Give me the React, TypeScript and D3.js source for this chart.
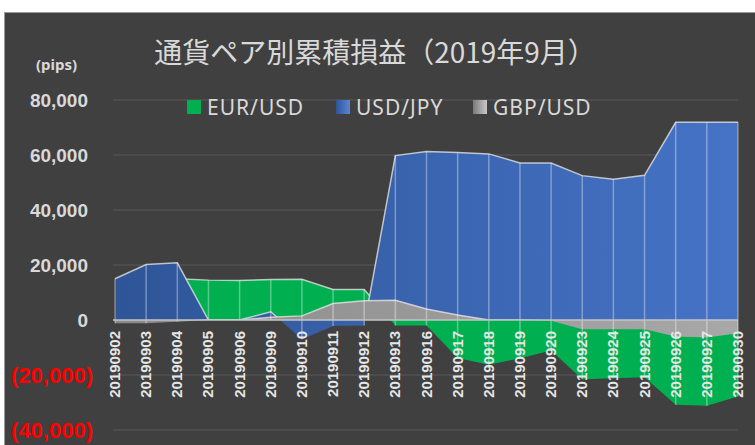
import React from "react";
import * as d3 from "d3";

const width = 755;
const height = 445;

const dates = [
  "20190902", "20190903", "20190904", "20190905", "20190906", "20190909",
  "20190910", "20190911", "20190912", "20190913", "20190916", "20190917",
  "20190918", "20190919", "20190920", "20190923", "20190924", "20190925",
  "20190926", "20190927", "20190930"
];

const eurUsd = [
  14000, 15000, 15000, 14500, 14400, 14750, 14850, 11100, 11100, -2000, -2000,
  -13800, -16300, -13900, -11100, -21500, -21200, -20800, -30800, -31200, -27800
];

const usdJpy = [
  15000, 20200, 20800, 0, 0, 3000, -7000, -2200, -2000, 59800, 61300, 60900,
  60400, 57100, 57100, 52500, 51200, 52600, 71900, 71900, 71900
];

const gbpUsd = [
  -1200, -1200, -600, 0, 0, 1000, 1500, 6000, 7000, 7200, 4000, 1800, 0, 0,
  -300, -3400, -3400, -3400, -6000, -6400, -4800
];

const seriesNames = ["EUR/USD", "USD/JPY", "GBP/USD"];
const yTicks = [-40000, -20000, 0, 20000, 40000, 60000, 80000];

const title = "通貨ペア別累積損益（2019年9月）";
const unitLabel = "(pips)";

const colors = {
  bg: "#404040",
  grid: "#585858",
  text: "#d9d9d9",
  neg: "#ff0000",
  green: "#00b050"
};

const fmt = d3.format(",");
const tickLabel = (v: number) => (v < 0 ? "(" + fmt(-v) + ")" : fmt(v));

export default function App() {
  // scales
  const x = d3.scalePoint().domain(dates).range([115, 738]);
  const y = d3.scaleLinear().domain([-40000, 80000]).range([430, 100]);

  const series = [
    { name: seriesNames[0], values: eurUsd, fill: colors.green },
    { name: seriesNames[1], values: usdJpy, fill: "url(#blueGrad)" },
    { name: seriesNames[2], values: gbpUsd, fill: "url(#grayGrad)" }
  ];

  const area = d3
    .area<number>()
    .x((d, i) => x(dates[i]) as number)
    .y0(y(0))
    .y1(d => y(d));

  const line = d3
    .line<number>()
    .x((d, i) => x(dates[i]) as number)
    .y(d => y(d));

  // drop lines from the highest to the lowest value at each date
  const drops = dates.map((d, i) => {
    const vals = [0, eurUsd[i], usdJpy[i], gbpUsd[i]];
    return { x: x(d) as number, top: y(d3.max(vals)!), bottom: y(d3.min(vals)!) };
  });

  const legendX = [187, 336, 473];

  return (
    <svg
      width={width}
      height={height}
      style={{ position: "absolute", left: 0, top: 0 }}
      fontFamily="'Liberation Sans', Arial, sans-serif"
    >
      <defs>
        <linearGradient id="blueGrad" x1="0" x2="1" y1="0" y2="0">
          <stop offset="0" stopColor="#2e5597" />
          <stop offset="1" stopColor="#4673c6" />
        </linearGradient>
        <linearGradient id="grayGrad" x1="0" x2="1" y1="0" y2="0">
          <stop offset="0" stopColor="#8a8a8a" />
          <stop offset="1" stopColor="#a8a8a8" />
        </linearGradient>
        <linearGradient id="blueLeg" x1="0" x2="1" y1="0" y2="0">
          <stop offset="0" stopColor="#2e5597" />
          <stop offset="1" stopColor="#5b86d6" />
        </linearGradient>
        <linearGradient id="grayLeg" x1="0" x2="1" y1="0" y2="0">
          <stop offset="0" stopColor="#7a7a7a" />
          <stop offset="1" stopColor="#c8c8c8" />
        </linearGradient>
        <clipPath id="above">
          <rect x={0} y={0} width={width} height={y(0)} />
        </clipPath>
      </defs>

      <rect x={0} y={0} width={width} height={height} fill="#ffffff" />
      <rect x={4.5} y={12.5} width={width} height={height} fill={colors.bg} stroke="#9a9a9a" />

      {/* gridlines */}
      <g>
        {yTicks.map(t => (
          <line key={t} x1={113} x2={738} y1={y(t)} y2={y(t)} stroke={colors.grid} strokeWidth={1} />
        ))}
      </g>

      {/* areas, overlapping, first series at the back; each with its light top edge */}
      {series.map(s => (
        <g key={s.name}>
          <path d={area(s.values) || ""} fill={s.fill} />
          <path
            d={line(s.values) || ""}
            fill="none"
            stroke="rgba(235,235,235,0.75)"
            strokeWidth={1.5}
            clipPath="url(#above)"
          />
        </g>
      ))}

      <g>
        {drops.map((d, i) => (
          <line
            key={i}
            x1={d.x}
            x2={d.x}
            y1={d.top}
            y2={d.bottom}
            stroke="rgba(255,255,255,0.35)"
            strokeWidth={1.5}
          />
        ))}
      </g>

      {/* zero axis */}
      <line x1={113} x2={738} y1={y(0)} y2={y(0)} stroke="#c4c4c4" strokeWidth={1.5} />

      {/* y axis labels */}
      <g>
        {yTicks.map(t => (
          <text
            key={t}
            x={t < 0 ? 93 : 88}
            y={y(t)}
            dy="0.36em"
            textAnchor="end"
            fontSize={t < 0 ? 22 : 19}
            fontWeight="bold"
            fill={t < 0 ? colors.neg : colors.text}
          >
            {tickLabel(t)}
          </text>
        ))}
      </g>

      {/* x axis labels */}
      <g>
        {dates.map(d => (
          <text
            key={d}
            transform={`translate(${(x(d) as number) + 5},331) rotate(-90)`}
            textAnchor="end"
            fontSize={15}
            fontWeight="bold"
            fill="#e6e6e6"
          >
            {d}
          </text>
        ))}
      </g>

      {/* title */}
      <text
        x={375}
        y={63}
        textAnchor="middle"
        fontSize={28}
        fill={colors.text}
        fontFamily="'Noto Sans CJK JP', sans-serif"
      >
        {title}
      </text>
      <text x={36} y={70} fontSize={15} fontWeight="bold" fill={colors.text} fontFamily="'Noto Sans', sans-serif">
        {unitLabel}
      </text>

      {/* legend */}
      <g>
        {seriesNames.map((n, i) => (
          <g key={n} transform={`translate(${legendX[i]},100)`}>
            <rect
              x={0}
              y={0}
              width={14}
              height={14}
              fill={i === 0 ? colors.green : i === 1 ? "url(#blueLeg)" : "url(#grayLeg)"}
            />
            <text
              x={20}
              y={15}
              fontSize={21}
              letterSpacing={1}
              fill={colors.text}
              fontFamily="'Noto Sans', sans-serif"
            >
              {n}
            </text>
          </g>
        ))}
      </g>
    </svg>
  );
}
